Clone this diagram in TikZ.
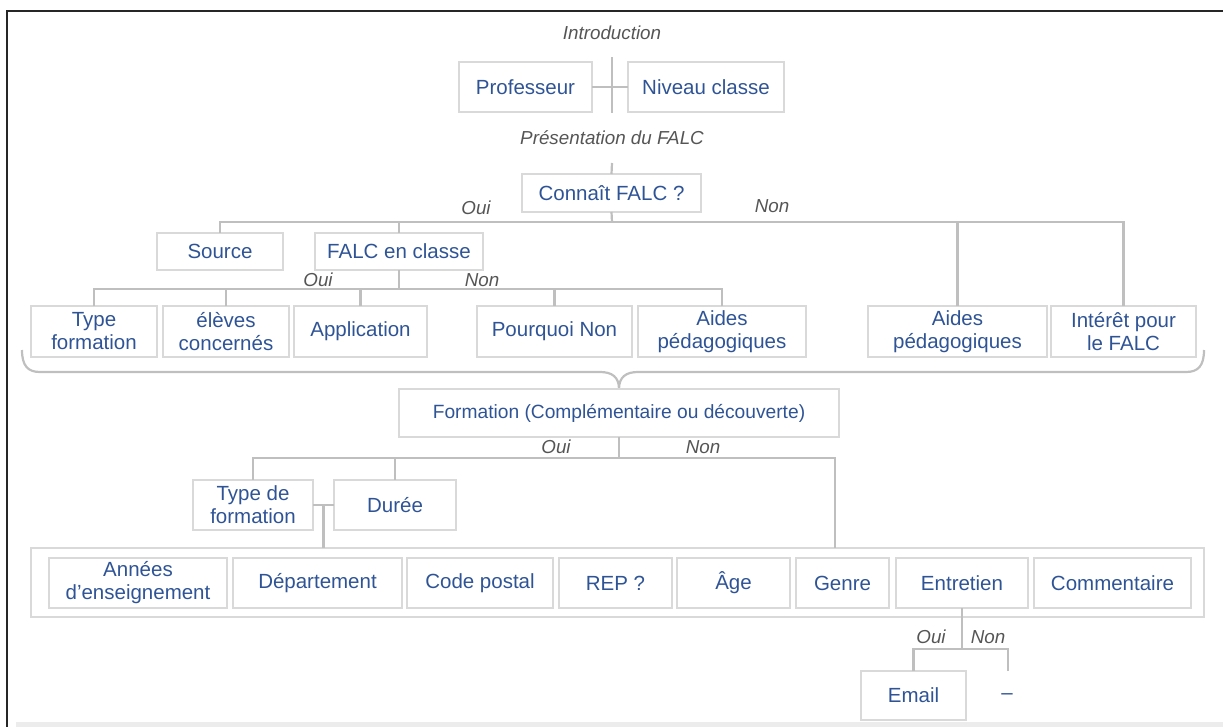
\documentclass[tikz,border=0pt]{standalone}
\usepackage{fontspec}
\setmainfont{Liberation Sans}
\usetikzlibrary{calc}
\definecolor{txtblue}{HTML}{2F5496}
\definecolor{lblgray}{HTML}{555555}
\definecolor{boxgray}{HTML}{D9D9D9}
\definecolor{linegray}{HTML}{BFBFBF}
\tikzset{
  box/.style={draw=boxgray, line width=1.6pt, text=txtblue, align=center, inner sep=0pt, outer sep=0pt,
    font=\fontsize{20.5}{23}\selectfont},
  conn/.style={draw=linegray, line width=2.2pt},
  lbl/.style={text=lblgray, inner sep=0pt, font=\fontsize{18.8}{20}\selectfont\itshape},
}
\newcommand{\bx}[6]{\node[box, minimum width={#4-#2}, minimum height={#5-#3}] (#1) at ({(#2+#4)/2},{(#3+#5)/2}) {#6};}
\begin{document}
\begin{tikzpicture}[x=1pt,y=-1pt]
\useasboundingbox (0,0) rectangle (1223,727);
% frame
\fill[boxgray!50] (16,722) rectangle (1223,727);
\draw[black!85, line width=1.6pt] (7,727) -- (7,11) -- (1223,11);

% top
\node[lbl] (intro) at (612,33) {Introduction};
\bx{prof}{459}{62}{592}{112}{Professeur}
\bx{niv}{628}{62}{784}{112}{Niveau classe}
\coordinate (vt) at (612,57);
\coordinate (vb) at (612,113);
\draw[conn] (vt) -- (vb);
\draw[conn] (prof.east) -- (niv.west);
\node[lbl] (pres) at (612,138) {Présentation du FALC};
\bx{cf}{522}{174}{701}{212}{Connaît FALC ?}
\coordinate (cft) at (612,163);
\draw[conn] (cft) -- (cf.north);

% level 1
\bx{src}{157}{233}{283}{270}{Source}
\bx{fec}{315}{233}{483}{270}{FALC en classe}
\bx{ap2}{868}{306}{1047}{357}{Aides\\pédagogiques}
\bx{int}{1051}{306}{1196}{357}{Intérêt pour\\le FALC}
\coordinate (b1) at (612,222);
\draw[conn] (cf.south) -- (b1);
\draw[conn] (src.north) |- (b1);
\draw[conn] (fec.north) |- (b1);
\draw[conn] (ap2.north) |- (b1);
\draw[conn] (int.north) |- (b1);
\node[lbl] at (476,208) {Oui};
\node[lbl] at (772,206) {Non};

% level 2
\bx{tf}{31}{306}{157}{357}{Type\\formation}
\bx{el}{163}{306}{289}{357}{élèves\\concernés}
\bx{app}{294}{306}{427}{357}{Application}
\bx{pq}{477}{306}{632}{357}{Pourquoi Non}
\bx{ap1}{638}{306}{806}{357}{Aides\\pédagogiques}
\coordinate (b2) at (399,289);
\draw[conn] (fec.south) -- (b2);
\foreach \n in {tf,el,app,pq,ap1} \draw[conn] (\n.north) |- (b2);
\node[lbl] at (318,280) {Oui};
\node[lbl] at (482,280) {Non};

% brace
\draw[conn] (22,350) .. controls (22,366) and (28,372) .. (40,372) -- (600,372)
  .. controls (612,372) and (619,377) .. (619,389);
\draw[conn] (1204,350) .. controls (1204,366) and (1198,372) .. (1186,372) -- (638,372)
  .. controls (626,372) and (619,377) .. (619,389);

% formation
\bx{fm}{399}{389}{839}{437}{\fontsize{19.2}{23}\selectfont Formation (Complémentaire ou découverte)}
\bx{tdf}{193}{480}{313}{530}{Type de\\formation}
\bx{dur}{334}{480}{456}{530}{Durée}
\node[draw=boxgray, line width=1.6pt, minimum width=1173pt, minimum height=69pt, inner sep=0pt, outer sep=0pt] (outer) at (617.5,582.5) {};
\coordinate (b3) at (619,458);
\coordinate (o3) at (835,548);
\draw[conn] (fm.south) -- (b3);
\draw[conn] (tdf.north) |- (b3);
\draw[conn] (dur.north) |- (b3);
\draw[conn] (b3) -| (o3);
\node[lbl] at (556,447) {Oui};
\node[lbl] at (703,447) {Non};
\coordinate (m) at ($(tdf.east)!0.5!(dur.west)$);
\draw[conn] (tdf.east) -- (dur.west);
\draw[conn] (m) -- (m |- outer.north);

% bottom row
\bx{ann}{49}{558}{227}{608}{Années\\d’enseignement}
\bx{dep}{233}{558}{402}{608}{Département}
\bx{cp}{407}{558}{553}{608}{Code postal}
\bx{rep}{559}{558}{672}{608}{REP ?}
\bx{age}{677}{558}{790}{608}{Âge}
\bx{gen}{796}{558}{889}{608}{Genre}
\bx{ent}{896}{558}{1028}{608}{Entretien}
\bx{com}{1034}{558}{1191}{608}{Commentaire}

% entretien
\bx{email}{861}{671}{966}{720}{Email}
\node[text=txtblue, inner sep=0pt, font=\fontsize{20.5}{23}\selectfont] (dash) at (1007,697) {–};
\coordinate (b4) at (962,649);
\coordinate (dfree) at (1008,671);
\draw[conn] (ent.south) -- (b4);
\draw[conn] (email.north) |- (b4);
\draw[conn] (dfree) |- (b4);
\node[lbl] at (931,637) {Oui};
\node[lbl] at (988,637) {Non};
\end{tikzpicture}
\end{document}
